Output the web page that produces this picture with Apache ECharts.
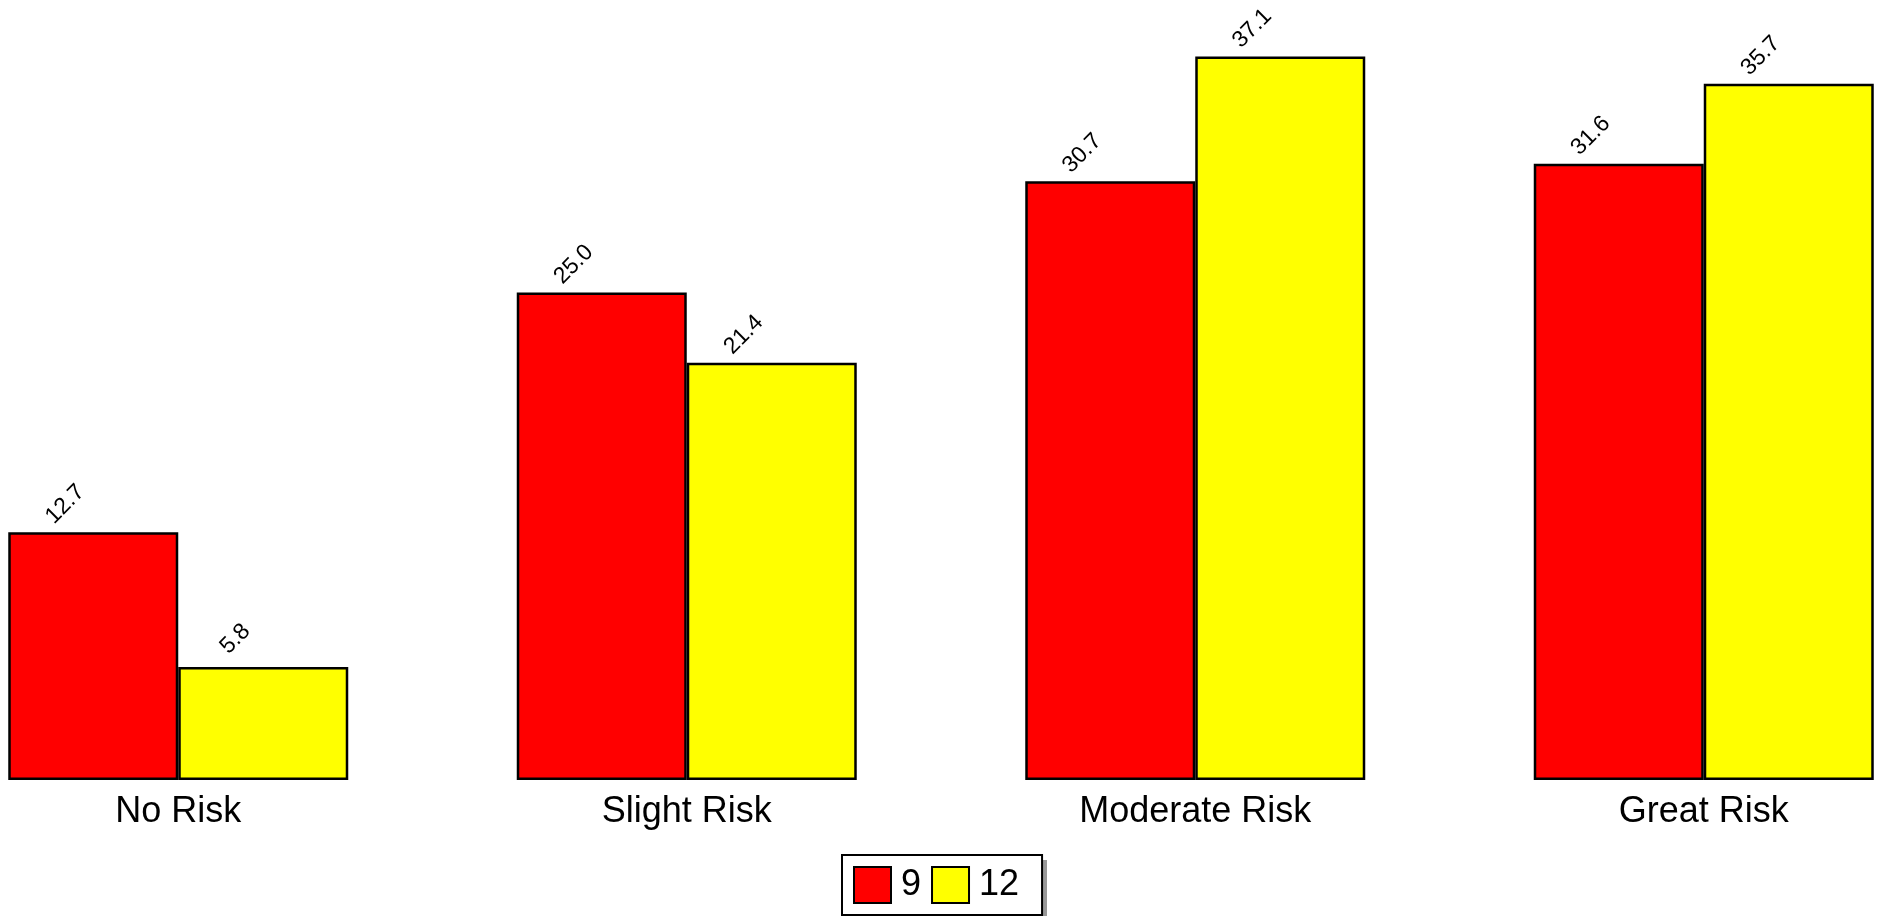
<!DOCTYPE html>
<html>
<head>
<meta charset="utf-8">
<script src="https://cdn.jsdelivr.net/npm/echarts@6/dist/echarts.min.js"></script>
<style>html,body{margin:0;padding:0;background:#fff}#c{width:1881px;height:916px}</style>
</head>
<body>
<div id="c"></div>
<script>
const categories = ['No Risk', 'Slight Risk', 'Moderate Risk', 'Great Risk'];
const seriesNames = ['9', '12'];
const grade9 = [12.7, 25.0, 30.7, 31.6];
const grade12 = [5.8, 21.4, 37.1, 35.7];
const colors = ['#ff0000', '#ffff00'];

const chart = echarts.init(document.getElementById('c'));
const labelCfg = {
  show: true,
  position: [57, -28],
  rotate: 45,
  align: 'center',
  verticalAlign: 'middle',
  fontFamily: 'Liberation Sans, Arial, sans-serif',
  fontSize: 23,
  color: '#000',
  formatter: p => p.value.toFixed(1)
};
chart.setOption({
  animation: false,
  backgroundColor: '#fff',
  grid: { left: -76, right: -77, top: 0, bottom: 136, containLabel: false, outerBoundsMode: 'none' },
  xAxis: {
    type: 'category',
    data: categories,
    axisLine: { show: false },
    axisTick: { show: false },
    axisLabel: { fontFamily: 'Liberation Sans, Arial, sans-serif', fontSize: 36, color: '#000', margin: 14, interval: 0 }
  },
  yAxis: { type: 'value', min: 0, max: 40, show: false, splitLine: { show: false } },
  graphic: [{
    type: 'rect', z: 1, silent: true,
    shape: { x: 847, y: 860, width: 200, height: 58 },
    style: { fill: '#999' }
  }],
  legend: {
    left: 842,
    top: 855,
    itemWidth: 37,
    itemHeight: 36,
    itemGap: 10,
    padding: [11, 23, 11, 11],
    icon: 'rect',
    backgroundColor: '#fff',
    borderColor: '#000',
    borderWidth: 2,
    z: 5,
    textStyle: { fontFamily: 'Liberation Sans, Arial, sans-serif', fontSize: 36, color: '#000', padding: [0, 0, 0, 5] },
    data: seriesNames
  },
  series: [
    { name: seriesNames[0], type: 'bar', data: grade9, barWidth: 170, barGap: '0%',
      itemStyle: { color: colors[0], borderColor: '#000', borderWidth: 2.5 }, label: labelCfg },
    { name: seriesNames[1], type: 'bar', data: grade12, barWidth: 170, barGap: '0%',
      itemStyle: { color: colors[1], borderColor: '#000', borderWidth: 2.5 }, label: labelCfg }
  ]
});
</script>
</body>
</html>
